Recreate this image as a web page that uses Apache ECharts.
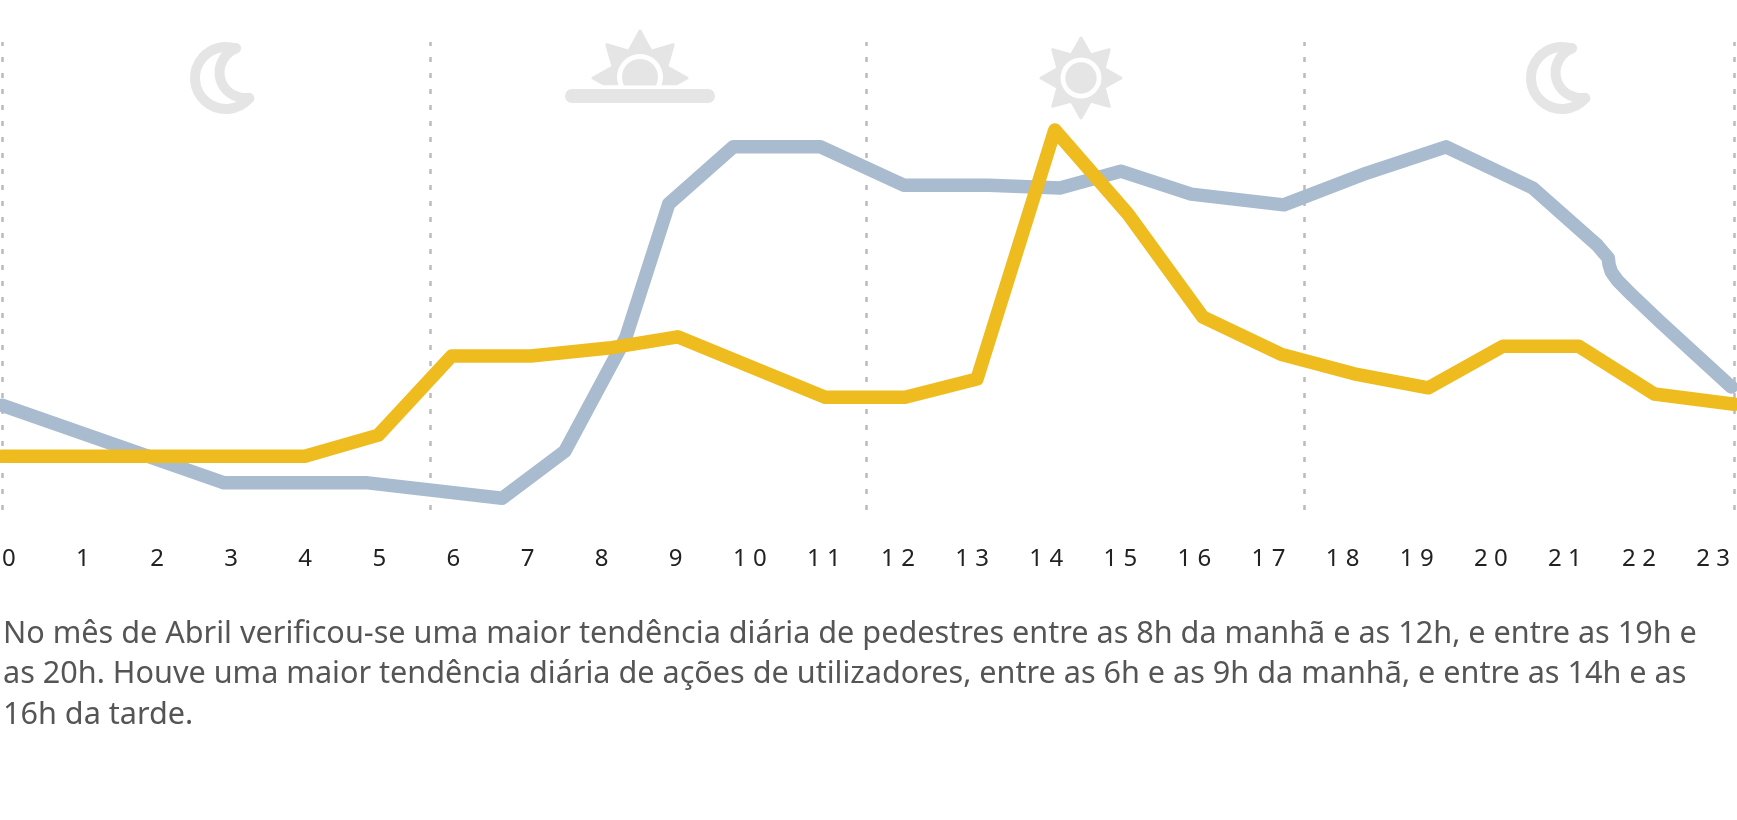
<!DOCTYPE html>
<html>
<head>
<meta charset="utf-8">
<title>Tendência diária</title>
<style>
  html, body { margin: 0; padding: 0; background: #fff; }
  #chart { width: 1737px; height: 820px; }
</style>
<script src="https://cdn.jsdelivr.net/npm/echarts@6/dist/echarts.min.js"></script>
</head>
<body>
<div id="chart"></div>
<script>
const hourLabels = ['0','1','2','3','4','5','6','7','8','9','10','11','12','13','14','15','16','17','18','19','20','21','22','23'];

// pedestres (azul)
const pedestrianHours = [-0.11,2.89,4.83,6.64,7.49,8.31,8.89,9.76,10.94,12.06,13.21,14.17,14.99,15.94,17.19,18.31,19.38,20.55,21.42,21.5,21.57,21.58,21.61,21.69,21.89,22.27,23.23];
const pedestrianValues = [22.4,5.8,5.8,2.5,12.6,36.8,65.4,77.6,77.6,69.4,69.4,68.8,72.4,67.5,65.2,72,77.6,68.8,56.6,55.1,53.8,52.4,50.9,49.1,45.9,40.2,26.3];

// ações de utilizadores (amarelo)
const actionHours = [-0.11,3.98,4.97,5.96,7.03,8.08,9.01,11,12.08,13.05,14.1,15.09,16.1,17.15,18.14,19.14,20.15,21.17,22.19,23.27];
const actionValues = [11.5,11.5,16,32.9,32.9,34.6,37,24.1,24.1,28,81.2,63.2,41.2,33.3,29.1,26.1,35,35,24.8,22.6];

// separadores dos períodos do dia
const dayPartBreaks = [-0.1,5.67,11.55,17.46,23.27];

const captionLines = [
  'No mês de Abril verificou-se uma maior tendência diária de pedestres entre as 8h da manhã e as 12h, e entre as 19h e',
  'as 20h. Houve uma maior tendência diária de ações de utilizadores, entre as 6h e as 9h da manhã, e entre as 14h e as',
  '16h da tarde.'
];

const ICON = '#e5e5e5';
// espaçamento entre dígitos dos rótulos
const DIGIT_GAP = '\u2009\u200a';

function pair(xs, ys) {
  return xs.map((x, i) => [x, ys[i]]);
}

function star(cx, cy, outer, inner) {
  const pts = [];
  for (let i = 0; i < 16; i++) {
    const r = i % 2 ? inner : outer;
    const a = -Math.PI / 2 + i * Math.PI / 8;
    pts.push([cx + r * Math.cos(a), cy + r * Math.sin(a)]);
  }
  return {
    type: 'polygon',
    shape: { points: pts },
    style: { fill: ICON, stroke: ICON, lineWidth: 3, lineJoin: 'round' }
  };
}

function moon(dx) {
  const line = { fill: null, stroke: ICON, lineWidth: 10, lineCap: 'round', lineJoin: 'round' };
  return [
    {
      type: 'arc',
      shape: { cx: 226 + dx, cy: 78, r: 31, startAngle: 41 * Math.PI / 180, endAngle: 288.4 * Math.PI / 180, clockwise: true },
      style: line
    },
    {
      type: 'bezierCurve',
      shape: { x1: 236 + dx, y1: 48, cpx1: 208 + dx, cpy1: 62, cpx2: 218 + dx, cpy2: 100, x2: 249 + dx, y2: 98 },
      style: line
    }
  ];
}

function sunrise() {
  return [
    star(640, 78, 47, 29),
    { type: 'rect', shape: { x: 585, y: 85.5, width: 110, height: 45 }, style: { fill: '#fff' } },
    { type: 'circle', shape: { cx: 640, cy: 77, r: 23 }, style: { fill: '#fff' } },
    { type: 'circle', shape: { cx: 640, cy: 77, r: 18 }, style: { fill: ICON } },
    { type: 'rect', shape: { x: 570, y: 85.5, width: 140, height: 3.5 }, style: { fill: '#fff' } },
    { type: 'rect', shape: { x: 565, y: 89, width: 150, height: 14, r: 7 }, style: { fill: ICON } }
  ];
}

function sun() {
  return [
    star(1081, 78, 40, 25),
    { type: 'circle', shape: { cx: 1081, cy: 78, r: 20.5 }, style: { fill: '#fff' } },
    { type: 'circle', shape: { cx: 1081, cy: 78, r: 15.7 }, style: { fill: ICON } }
  ];
}

const myChart = echarts.init(document.getElementById('chart'));

const option = {
  animation: false,
  title: {
    text: captionLines.join('\n'),
    left: 3,
    top: 614,
    padding: 0,
    textStyle: { fontFamily: '"Noto Sans"', fontSize: 30.6, fontWeight: 400, color: '#555', lineHeight: 40.5 }
  },
  grid: { left: -64.1, top: 42, width: 1852.5, height: 468, outerBoundsMode: 'none' },
  xAxis: {
    type: 'value',
    min: -1,
    max: 24,
    interval: 1,
    splitLine: { show: false },
    axisLine: { show: false },
    axisTick: { show: false },
    axisLabel: {
      margin: 37,
      color: '#222',
      fontFamily: '"Noto Sans"',
      fontSize: 24,
      formatter: v => (hourLabels[v] === undefined ? '' : hourLabels[v].split('').join(DIGIT_GAP) + '\u200a')
    }
  },
  yAxis: { type: 'value', min: 0, max: 100, show: false },
  graphic: {
    elements: [...moon(0), ...sunrise(), ...sun(), ...moon(1336)]
  },
  series: [
    {
      type: 'line',
      data: [],
      z: 1,
      silent: true,
      markLine: {
        z: 1,
        silent: true,
        symbol: 'none',
        label: { show: false },
        lineStyle: { color: '#bbb', width: 2.5, type: [5, 11], opacity: 1 },
        data: dayPartBreaks.map(h => ({ xAxis: h }))
      }
    },
    {
      name: 'Pedestres',
      type: 'line',
      z: 2,
      showSymbol: false,
      data: pair(pedestrianHours, pedestrianValues),
      lineStyle: { color: '#a9bbcf', width: 13.5, cap: 'round', join: 'round' }
    },
    {
      name: 'Ações de utilizadores',
      type: 'line',
      z: 3,
      showSymbol: false,
      data: pair(actionHours, actionValues),
      lineStyle: { color: '#efbc1f', width: 13.5, cap: 'round', join: 'round' }
    }
  ]
};

myChart.setOption(option);
</script>
</body>
</html>
